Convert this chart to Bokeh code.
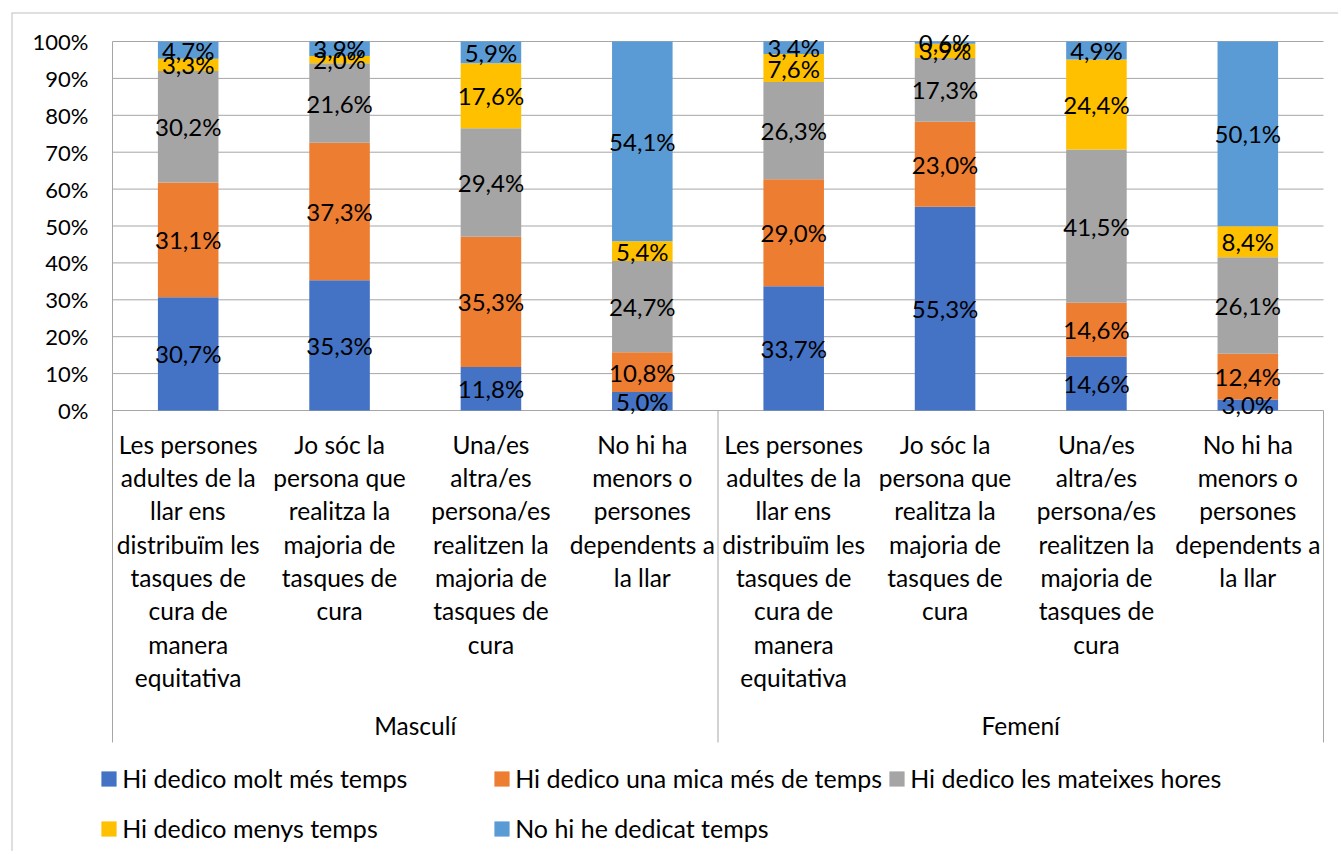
import numpy as np
from bokeh.plotting import figure
from bokeh.models import (ColumnDataSource, Range1d, FixedTicker, PrintfTickFormatter,
                          Legend, LegendItem)
from bokeh.core.properties import value
from bokeh.embed import file_html
from bokeh.resources import INLINE

# ---------------- data ----------------
groups = ["Masculí", "Femení"]
categories = [
    "Les persones\nadultes de la\nllar ens\ndistribuïm les\ntasques de\ncura de\nmanera\nequitativa",
    "Jo sóc la\npersona que\nrealitza la\nmajoria de\ntasques de\ncura",
    "Una/es\naltra/es\npersona/es\nrealitzen la\nmajoria de\ntasques de\ncura",
    "No hi ha\nmenors o\npersones\ndependents a\nla llar",
]
series = ["Hi dedico molt més temps", "Hi dedico una mica més de temps",
          "Hi dedico les mateixes hores", "Hi dedico menys temps", "No hi he dedicat temps"]
molt_mes = [30.7, 35.3, 11.8, 5.0, 33.7, 55.3, 14.6, 3.0]
mica_mes = [31.1, 37.3, 35.3, 10.8, 29.0, 23.0, 14.6, 12.4]
mateixes = [30.2, 21.6, 29.4, 24.7, 26.3, 17.3, 41.5, 26.1]
menys = [3.3, 2.0, 17.6, 5.4, 7.6, 3.9, 24.4, 8.4]
no_temps = [4.7, 3.9, 5.9, 54.1, 3.4, 0.6, 4.9, 50.1]
y_ticks = [0, 10, 20, 30, 40, 50, 60, 70, 80, 90, 100]

# ---------------- style / geometry (page pixels) ----------------
colors = ["#4472C4", "#ED7D31", "#A5A5A5", "#FFC000", "#5B9BD5"]
FONT = "Lato"
GRID = "#a6a6a6"
BORDER = "#bfbfbf"
W, H = 1338, 851            # canvas at page (0, 0)
box_l, box_t = 11, 12       # chart-area border = plot frame's top-left
plot_l, plot_r = 112, 1323  # category axis extent
top_y, zero_y = 41, 410     # 100 % and 0 % lines
n_cat = len(groups) * len(categories)
px_x = (plot_r - plot_l) / n_cat
px_y = (zero_y - top_y) / 100.0


def x_at(page_x):
    return (page_x - plot_l) / px_x


def y_at(page_y):
    return 100 - (page_y - top_y) / px_y


p = figure(width=W, height=H,
           x_range=Range1d(x_at(box_l), x_at(W)), y_range=Range1d(y_at(H), y_at(box_t)),
           output_backend="svg", toolbar_location=None, x_axis_location=None,
           min_border_left=box_l, min_border_right=0, min_border_top=box_t, min_border_bottom=0)
p.outline_line_color = None
p.background_fill_color = "white"
p.border_fill_color = "white"
p.xgrid.visible = False
p.ygrid.visible = False

# y axis (labels pulled inside the chart area)
yax = p.yaxis[0]
yax.ticker = FixedTicker(ticks=y_ticks)
yax.formatter = PrintfTickFormatter(format="%d%%")
yax.axis_line_color = None
yax.major_tick_line_color = None
yax.minor_tick_line_color = None
yax.major_tick_out = 0
yax.major_tick_in = 0
yax.major_label_standoff = -(88 - box_l)
yax.major_label_text_font = FONT
yax.major_label_text_font_size = "22px"
yax.major_label_text_color = "black"

# chart-area border (left and top edges)
p.segment(x0=[x_at(box_l), x_at(box_l)], y0=[y_at(box_t), y_at(box_t)],
          x1=[x_at(box_l), x_at(W + 10)], y1=[y_at(H + 10), y_at(box_t)],
          line_color=BORDER, line_width=2)

# horizontal gridlines
p.segment(x0=[0] * len(y_ticks), x1=[n_cat] * len(y_ticks), y0=y_ticks, y1=y_ticks,
          line_color=GRID, line_width=1)

# stacks (100% stacked)
vals = np.array([molt_mes, mica_mes, mateixes, menys, no_temps], dtype=float)
norm = vals / vals.sum(axis=0) * 100
x = np.arange(n_cat) + 0.5
tops = np.cumsum(norm, axis=0)
bottoms = tops - norm

lab_x, lab_y, lab_t = [], [], []
for k in range(len(series)):
    src = ColumnDataSource(dict(x=x, bottom=bottoms[k], top=tops[k]))
    p.vbar(x="x", bottom="bottom", top="top", width=0.4, source=src,
           fill_color=colors[k], line_color=None)
    for i in range(n_cat):
        lab_x.append(x[i])
        lab_y.append((bottoms[k][i] + tops[k][i]) / 2)
        lab_t.append(f"{vals[k][i]:.1f}".replace(".", ",") + "%")

p.text(x=lab_x, y=lab_y, text=lab_t, text_font=value(FONT), text_font_size="24px",
       text_align="center", text_baseline="middle", text_color="black")

# category separators
sep_bottom = y_at(742)
p.segment(x0=[0, 4, 8], y0=[100, 0, 0], x1=[0, 4, 8], y1=[sep_bottom] * 3,
          line_color=GRID, line_width=1)

# category labels
cat_x = list(x)
cat_t = categories * len(groups)
p.text(x=cat_x, y=[y_at(429)] * n_cat, text=cat_t, text_font=value(FONT),
       text_font_size="24.5px", text_align="center", text_baseline="top",
       text_line_height=1.15, text_color="black")

# group labels
p.text(x=[2, 6], y=[y_at(725)] * 2, text=groups, text_font=value(FONT),
       text_font_size="24.5px", text_align="center", text_baseline="middle",
       text_color="black")

# legend (swatch renderers carry no visible data)
nan = [np.nan]
gw = 18.75
leg_pos = [(101, 779), (494, 779), (889, 779), (101, 829), (494, 829)]
for k in range(len(series)):
    sw = p.quad(left=nan, right=nan, top=nan, bottom=nan,
                fill_color=colors[k], line_color=None)
    sx, sy = leg_pos[k]
    item_h = 28
    leg = Legend(items=[LegendItem(label=series[k], renderers=[sw])],
                 location=(sx - gw * 0.1 - box_l, H - (sy + item_h / 2)),
                 orientation="horizontal", padding=0, margin=0, spacing=0,
                 glyph_width=int(round(gw)), glyph_height=int(round(gw)), label_standoff=4,
                 label_text_font=FONT, label_text_font_size="25px", label_text_color="black",
                 border_line_color=None, background_fill_alpha=0)
    p.add_layout(leg, "center")

open("out.html", "w").write(file_html(p, INLINE))
